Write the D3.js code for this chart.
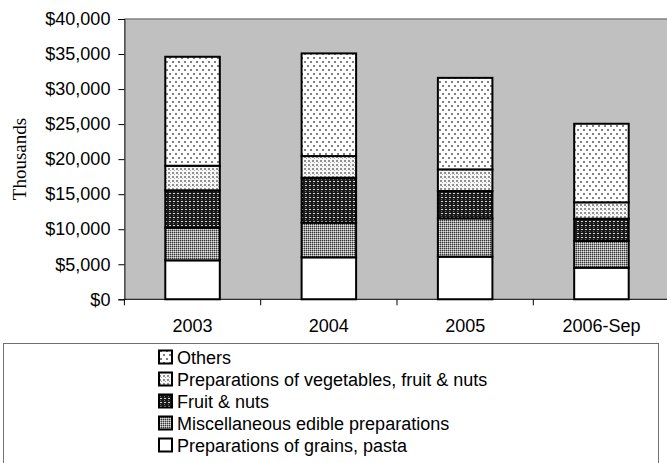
<!DOCTYPE html>
<html>
<head>
<meta charset="utf-8">
<script src="https://cdn.jsdelivr.net/npm/d3@7"></script>
<style>
  html, body { margin: 0; padding: 0; background: #fff; }
  svg { display: block; }
</style>
</head>
<body>
<div id="chart"></div>
<script>
// Data (thousands of dollars)
const categories = ['2003', '2004', '2005', '2006-Sep'];
const seriesNames = [
    'Preparations of grains, pasta',
    'Miscellaneous edible preparations',
    'Fruit & nuts',
    'Preparations of vegetables, fruit & nuts',
    'Others'
];
const grains = [5560, 5990, 6080, 4510];
const misc = [4650, 4940, 5470, 3810];
const fruitNuts = [5340, 6420, 3900, 3180];
const prepVeg = [3510, 3090, 3090, 2340];
const others = [15550, 14650, 13060, 11210];
const yTicks = [0, 5000, 10000, 15000, 20000, 25000, 30000, 35000, 40000];

const WIDTH = 667, HEIGHT = 463;
const PLOT = { left: 124.4, right: 669.6, top: 19, bottom: 299.3 };

const svg = d3.select('#chart').append('svg')
    .attr('width', WIDTH)
    .attr('height', HEIGHT);

// Fill patterns, one per series
const defs = svg.append('defs');
const patternSpecs = [
    { id: 'p0', size: [4, 4], bg: '#ffffff', dots: [] },
    { id: 'p1', size: [2, 2], bg: '#9a9a9a', dots: [[0, 0, 1, 1, '#3a3a3a'], [1, 1, 1, 1, '#e0e0e0']] },
    { id: 'p2', size: [4, 4], bg: '#1a1a1a', dots: [[1, 1, 2, 1, '#d8d8d8'], [1, 3, 1, 1, '#707070']] },
    { id: 'p3', size: [4, 4], bg: '#f6f6f6', dots: [[0, 0, 2, 2, '#909090'], [2, 2, 1, 1, '#b0b0b0']] },
    { id: 'p4', size: [6, 8], bg: '#ffffff', dots: [[1, 1, 2, 2, '#808080'], [4, 5, 2, 2, '#808080']] }
];
patternSpecs.forEach(p => {
    const pat = defs.append('pattern')
        .attr('id', p.id)
        .attr('patternUnits', 'userSpaceOnUse')
        .attr('width', p.size[0])
        .attr('height', p.size[1]);
    pat.append('rect').attr('width', p.size[0]).attr('height', p.size[1]).attr('fill', p.bg);
    p.dots.forEach(d => {
        pat.append('rect').attr('x', d[0]).attr('y', d[1]).attr('width', d[2]).attr('height', d[3]).attr('fill', d[4]);
    });
});

// Scales
const x = d3.scaleBand()
    .domain(categories)
    .range([PLOT.left, PLOT.right])
    .paddingInner(0.6)
    .paddingOuter(0.3);

const y = d3.scaleLinear()
    .domain([0, 40000])
    .range([PLOT.bottom, PLOT.top]);

// Plot area background
svg.append('rect')
    .attr('x', PLOT.left)
    .attr('y', PLOT.top)
    .attr('width', PLOT.right - PLOT.left)
    .attr('height', PLOT.bottom - PLOT.top)
    .attr('fill', '#c0c0c0');

svg.append('line')
    .attr('x1', PLOT.left).attr('x2', PLOT.right)
    .attr('y1', PLOT.top).attr('y2', PLOT.top)
    .attr('stroke', '#808080').attr('stroke-width', 1.5);

// Stacked bars
const table = categories.map((c, i) => ({
    cat: c, s0: grains[i], s1: misc[i], s2: fruitNuts[i], s3: prepVeg[i], s4: others[i]
}));
const stacked = d3.stack().keys(['s0', 's1', 's2', 's3', 's4'])(table);

const layers = svg.selectAll('.layer')
    .data(stacked)
    .enter().append('g')
    .attr('class', 'layer')
    .attr('fill', (d, i) => `url(#p${i})`);

layers.selectAll('rect')
    .data(d => d)
    .enter().append('rect')
    .attr('x', d => x(d.data.cat))
    .attr('width', x.bandwidth())
    .attr('y', d => y(d[1]))
    .attr('height', d => y(d[0]) - y(d[1]))
    .attr('stroke', '#000')
    .attr('stroke-width', 2);

// Y axis
const yAxis = svg.append('g')
    .attr('transform', `translate(${PLOT.left},0)`)
    .call(d3.axisLeft(y).tickValues(yTicks).tickFormat(d3.format('$,')).tickSize(6).tickPadding(8));
yAxis.select('.domain').attr('stroke', '#000');
yAxis.selectAll('line').attr('stroke', '#000');
yAxis.selectAll('text')
    .attr('fill', '#000')
    .style('font-family', '"Liberation Sans", Arial, sans-serif')
    .style('font-size', '18px');

// X axis (ticks between categories)
const step = x.step();
const xTickPos = d3.range(categories.length + 1).map(i => PLOT.left + i * step);
svg.append('line')
    .attr('x1', PLOT.left).attr('x2', PLOT.right)
    .attr('y1', PLOT.bottom).attr('y2', PLOT.bottom)
    .attr('stroke', '#000').attr('stroke-width', 1);
svg.selectAll('.xtick')
    .data(xTickPos)
    .enter().append('line')
    .attr('x1', d => d).attr('x2', d => d)
    .attr('y1', PLOT.bottom).attr('y2', PLOT.bottom + 6)
    .attr('stroke', '#000');
svg.selectAll('.xlabel')
    .data(categories)
    .enter().append('text')
    .attr('x', d => x(d) + x.bandwidth() / 2)
    .attr('y', 332)
    .attr('text-anchor', 'middle')
    .style('font-family', '"Liberation Sans", Arial, sans-serif')
    .style('font-size', '18px')
    .text(d => d);

// Y axis title
svg.append('text')
    .attr('transform', 'translate(26,159) rotate(-90)')
    .attr('text-anchor', 'middle')
    .style('font-family', '"Liberation Serif", "Times New Roman", serif')
    .style('font-size', '19px')
    .text('Thousands');

// Legend
svg.append('rect')
    .attr('x', 3.5).attr('y', 343.5)
    .attr('width', 655).attr('height', 140)
    .attr('fill', '#fff')
    .attr('stroke', '#707070');

const legendItems = svg.selectAll('.legend-item')
    .data(seriesNames.map((n, i) => ({ name: n, idx: i })).reverse())
    .enter().append('g')
    .attr('class', 'legend-item')
    .attr('transform', (d, i) => `translate(159, ${357 + i * 22})`);

legendItems.append('rect')
    .attr('x', 0).attr('y', -6.5)
    .attr('width', 13).attr('height', 13)
    .attr('fill', d => `url(#p${d.idx})`)
    .attr('stroke', '#000')
    .attr('stroke-width', 2);

legendItems.append('text')
    .attr('x', 18)
    .attr('y', 6.5)
    .style('font-family', '"Liberation Sans", Arial, sans-serif')
    .style('font-size', '18px')
    .text(d => d.name);
</script>
</body>
</html>
